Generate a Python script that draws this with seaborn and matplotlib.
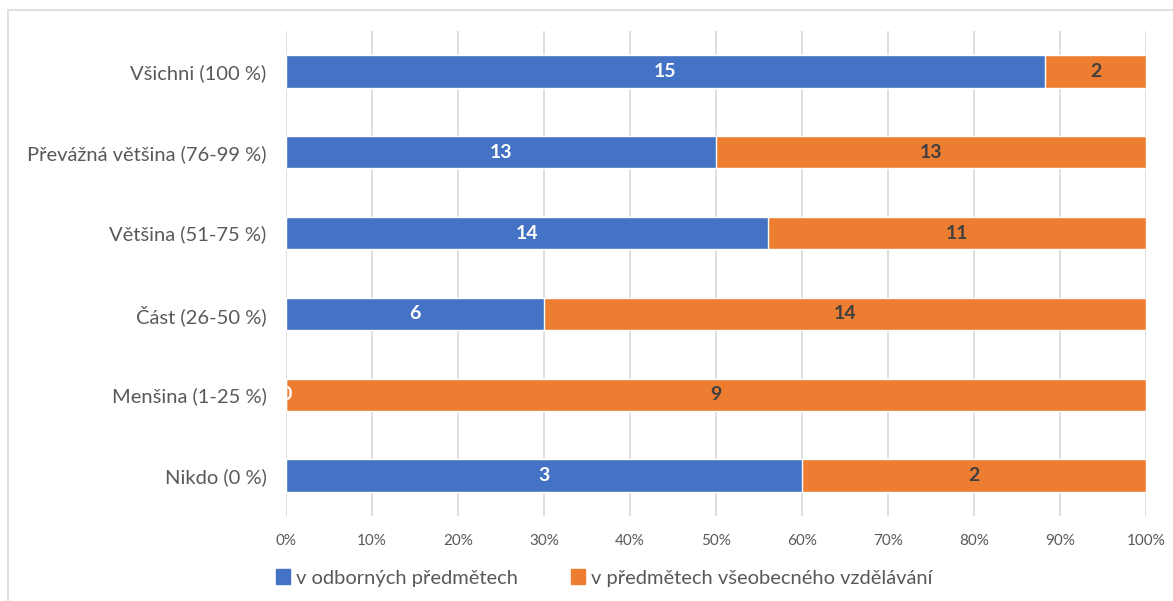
import pandas as pd
import matplotlib.pyplot as plt
import seaborn as sns
from matplotlib.patches import Patch, Rectangle

# Data
categories = ["Všichni (100 %)", "Převážná většina (76-99 %)", "Většina (51-75 %)",
              "Část (26-50 %)", "Menšina (1-25 %)", "Nikdo (0 %)"]
odborne = [15, 13, 14, 6, 0, 3]
vseobecne = [2, 13, 11, 14, 9, 2]
series_names = ["v odborných předmětech", "v předmětech všeobecného vzdělávání"]

blue = "#4472C4"
orange = "#ED7D31"

df = pd.DataFrame({"cat": categories, "odb": odborne, "vse": vseobecne})
df["total"] = df["odb"] + df["vse"]
df["odb_pct"] = df["odb"] / df["total"] * 100
df["all_pct"] = 100.0

sns.set_theme(style="white")
plt.rcParams["font.family"] = ["Lato", "DejaVu Sans"]

fig = plt.figure(figsize=(11.73, 6.01), dpi=100)
ax = fig.add_axes([286 / 1173, 1 - 516 / 601, (1146 - 286) / 1173, (516 - 31) / 601])

# outer frame of the chart area
fig.patches.append(Rectangle((8 / 1173, -0.05), 1.2, 1 - 10 / 601 + 0.05,
                             transform=fig.transFigure, fill=False,
                             edgecolor="#d9d9d9", linewidth=1.2, zorder=0))

sns.barplot(data=df, x="all_pct", y="cat", color=orange, orient="h",
            width=0.4, saturation=1, ax=ax, zorder=3)
sns.barplot(data=df, x="odb_pct", y="cat", color=blue, orient="h",
            width=0.4, saturation=1, ax=ax, zorder=4)

for i, row in df.iterrows():
    ax.text(row["odb_pct"] / 2, i, str(row["odb"]), ha="center", va="center",
            color="white", fontsize=14, fontweight="bold", zorder=5)
    ax.text((row["odb_pct"] + 100) / 2, i, str(row["vse"]), ha="center", va="center",
            color="#404040", fontsize=14, fontweight="bold", zorder=5)

ax.set_xlim(0, 100)
ax.set_ylim(5.5, -0.5)
ax.set_xticks(range(0, 101, 10))
ax.set_xticklabels([f"{t}%" for t in range(0, 101, 10)], color="#595959", fontsize=11)
ax.tick_params(axis="y", labelsize=14.5, labelcolor="#595959", length=0, pad=14)
ax.tick_params(axis="x", length=0, pad=13)
ax.set_xlabel("")
ax.set_ylabel("")
ax.grid(axis="x", color="#d9d9d9", linewidth=1.2, zorder=0)
ax.set_axisbelow(True)
for s in ax.spines.values():
    s.set_visible(False)

handles = [Patch(color=blue, label=series_names[0]),
           Patch(color=orange, label=series_names[1])]
leg = fig.legend(handles=handles, loc="center", bbox_to_anchor=(0.515, 1 - 578 / 601),
                 ncol=2, frameon=False, fontsize=14.5, handlelength=0.7,
                 handleheight=0.7, handletextpad=0.3, columnspacing=2.6)
for t in leg.get_texts():
    t.set_color("#595959")

fig.savefig("out.png", dpi=100)
